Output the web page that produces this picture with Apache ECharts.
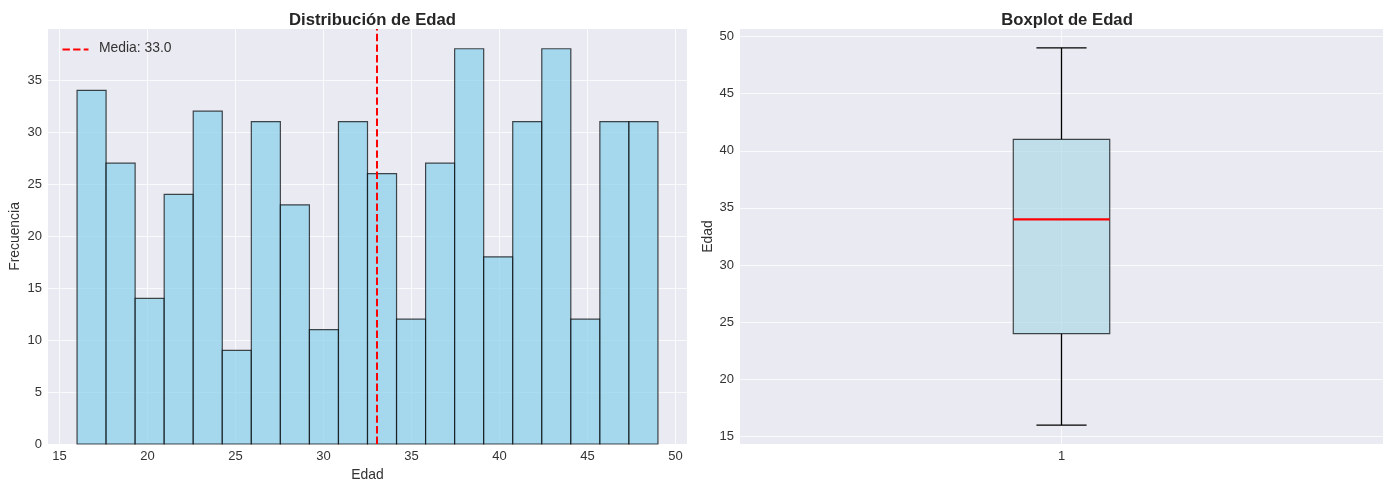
<!DOCTYPE html>
<html>
<head>
<meta charset="utf-8">
<script src="https://cdn.jsdelivr.net/npm/echarts@6/dist/echarts.min.js"></script>
<style>html,body{margin:0;padding:0;background:#fff;}#c{width:1390px;height:489px;}</style>
</head>
<body>
<div id="c"></div>
<script>
// ---- data ----
const binMin = 16;
const binMax = 49;
const counts = [34, 27, 14, 24, 32, 9, 31, 23, 11, 31, 26, 12, 27, 38, 18, 31, 38, 12, 31, 31];
const meanAge = 33.0;
const histXTicks = [15, 20, 25, 30, 35, 40, 45, 50];
const histYTicks = [0, 5, 10, 15, 20, 25, 30, 35];
const boxStats = [16, 24, 34, 41, 49]; // min, q1, median, q3, max
const boxYTicks = [15, 20, 25, 30, 35, 40, 45, 50];
const boxXTicks = [1];

const FONT = '"Liberation Sans", Arial, sans-serif';
const BG = '#EAEAF2';
const GRID = 'rgba(255,255,255,0.75)';
const TXT = '#333333';

const nBins = counts.length;
const bw = (binMax - binMin) / nBins;
const histData = counts.map((c, i) => [binMin + i * bw, binMin + (i + 1) * bw, c]);
const span = binMax - binMin;
const xMinH = binMin - span * 0.05, xMaxH = binMax + span * 0.05;
const yMaxH = Math.max(...counts) * 1.05;
const bspan = boxStats[4] - boxStats[0];
const yMinB = boxStats[0] - bspan * 0.05, yMaxB = boxStats[4] + bspan * 0.05;

const chart = echarts.init(document.getElementById('c'), null, {renderer: 'canvas'});

function axisCommon(ticks) {
  return {
    axisLine: {show: false},
    axisTick: {show: false, customValues: ticks},
    axisLabel: {customValues: ticks, color: TXT, fontFamily: FONT, fontSize: 13, margin: 6},
    splitLine: {show: true, lineStyle: {color: GRID, width: 1}}
  };
}
const nameStyle = {fontFamily: FONT, fontSize: 13.9, color: TXT};

const option = {
  animation: false,
  backgroundColor: '#ffffff',
  title: [
    {text: 'Distribución de Edad', left: 367.5, top: 7, textAlign: 'center',
     textStyle: {fontFamily: FONT, fontSize: 16.7, fontWeight: 'bold', color: '#262626'}},
    {text: 'Boxplot de Edad', left: 1062, top: 7, textAlign: 'center',
     textStyle: {fontFamily: FONT, fontSize: 16.7, fontWeight: 'bold', color: '#262626'}}
  ],
  grid: [
    {left: 48, right: 703, top: 29, bottom: 45, show: true, backgroundColor: BG, borderWidth: 0},
    {left: 740, right: 7, top: 29, bottom: 45, show: true, backgroundColor: BG, borderWidth: 0}
  ],
  xAxis: [
    Object.assign({type: 'value', gridIndex: 0, min: xMinH, max: xMaxH,
      name: 'Edad', nameLocation: 'middle', nameGap: 24, nameTextStyle: nameStyle}, axisCommon(histXTicks)),
    Object.assign({type: 'value', gridIndex: 1, min: 0.5, max: 1.5}, axisCommon(boxXTicks))
  ],
  yAxis: [
    Object.assign({type: 'value', gridIndex: 0, min: 0, max: yMaxH,
      name: 'Frecuencia', nameLocation: 'middle', nameGap: 26, nameTextStyle: nameStyle}, axisCommon(histYTicks)),
    Object.assign({type: 'value', gridIndex: 1, min: yMinB, max: yMaxB,
      name: 'Edad', nameLocation: 'middle', nameGap: 25, nameTextStyle: nameStyle}, axisCommon(boxYTicks))
  ],
  series: [
    {
      type: 'custom', xAxisIndex: 0, yAxisIndex: 0,
      data: histData,
      encode: {x: [0, 1], y: 2},
      renderItem: function (params, api) {
        const p0 = api.coord([api.value(0), api.value(2)]);
        const p1 = api.coord([api.value(1), 0]);
        return {type: 'rect',
          shape: {x: p0[0], y: p0[1], width: p1[0] - p0[0], height: p1[1] - p0[1]},
          style: {fill: 'rgba(135,206,235,0.7)', stroke: 'rgba(0,0,0,0.7)', lineWidth: 1.2}};
      },
      markLine: {
        silent: true, symbol: 'none', animation: false,
        label: {show: false},
        lineStyle: {color: '#FF0000', width: 2, type: [7.4, 3.2], opacity: 1},
        data: [{xAxis: meanAge}]
      },
      z: 2
    },
    {
      type: 'custom', xAxisIndex: 1, yAxisIndex: 1,
      data: [[1].concat(boxStats)],
      encode: {x: 0, y: [1, 2, 3, 4, 5]},
      renderItem: function (params, api) {
        const x = api.value(0);
        const half = 0.075, capHalf = 0.039;
        const c = (xx, yy) => api.coord([xx, yy]);
        const pMin = c(x, api.value(1)), pQ1 = c(x, api.value(2)), pMed = c(x, api.value(3));
        const pQ3 = c(x, api.value(4)), pMax = c(x, api.value(5));
        const bl = c(x - half, 0)[0], br = c(x + half, 0)[0];
        const cl = c(x - capHalf, 0)[0], cr = c(x + capHalf, 0)[0];
        const blk = {stroke: '#000', lineWidth: 1.3};
        return {type: 'group', children: [
          {type: 'line', shape: {x1: pMin[0], y1: pMin[1], x2: pQ1[0], y2: pQ1[1]}, style: blk},
          {type: 'line', shape: {x1: pQ3[0], y1: pQ3[1], x2: pMax[0], y2: pMax[1]}, style: blk},
          {type: 'line', shape: {x1: cl, y1: pMin[1], x2: cr, y2: pMin[1]}, style: blk},
          {type: 'line', shape: {x1: cl, y1: pMax[1], x2: cr, y2: pMax[1]}, style: blk},
          {type: 'rect', shape: {x: bl, y: pQ3[1], width: br - bl, height: pQ1[1] - pQ3[1]},
           style: {fill: 'rgba(173,216,230,0.7)', stroke: 'rgba(0,0,0,0.7)', lineWidth: 1.2}},
          {type: 'line', shape: {x1: bl, y1: pMed[1], x2: br, y2: pMed[1]},
           style: {stroke: '#FF0000', lineWidth: 2.2}}
        ]};
      },
      z: 2
    }
  ],
  graphic: [
    {type: 'line', left: 60, top: 47, shape: {x1: 0, y1: 0, x2: 26, y2: 0},
     style: {stroke: '#FF0000', lineWidth: 2, lineDash: [7.4, 3.2]}, z: 10},
    {type: 'text', left: 99, top: 41,
     style: {text: 'Media: ' + meanAge.toFixed(1), font: '13.9px ' + FONT, fill: TXT}, z: 10}
  ]
};
chart.setOption(option);
</script>
</body>
</html>
